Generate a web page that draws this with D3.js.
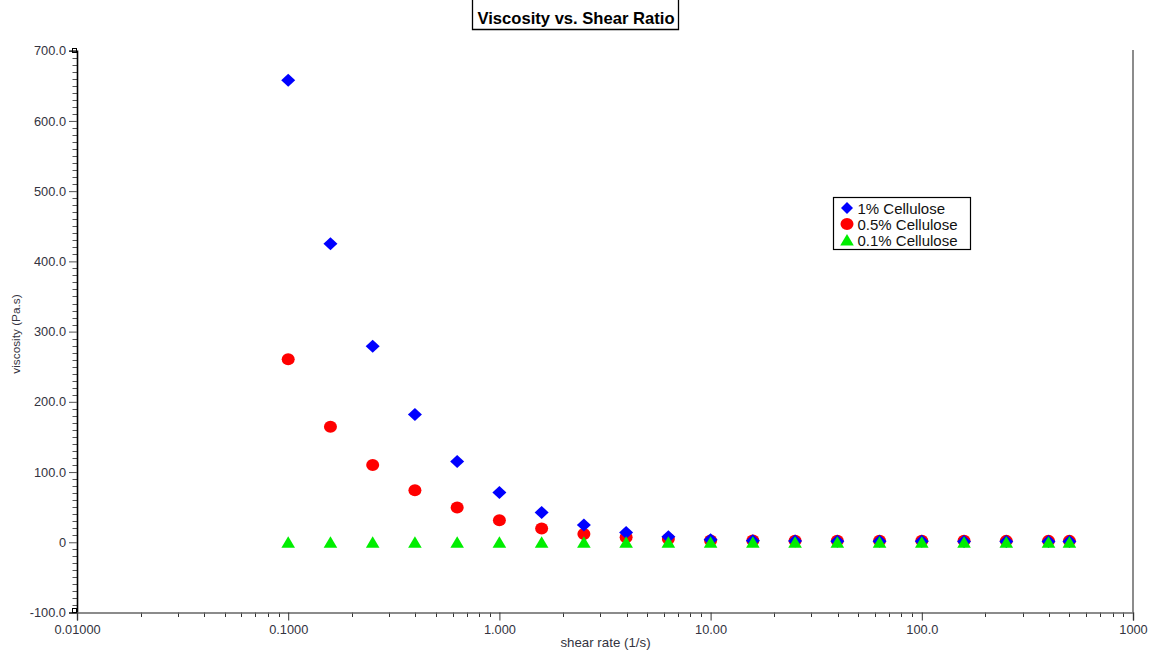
<!DOCTYPE html>
<html><head><meta charset="utf-8">
<script src="https://cdn.jsdelivr.net/npm/d3@7"></script>
<style>body{margin:0;background:#fff;}svg{display:block;font-family:Arial,"Liberation Sans",sans-serif;}</style>
</head><body>
<svg id="c" width="1152" height="651"></svg>
<script>
const shearRate = [0.1,0.1585,0.2512,0.3981,0.631,1,1.585,2.512,3.981,6.31,10,15.85,25.12,39.81,63.1,100,158.5,251.2,398.1,500];
const visc1 = [658,425,279,182,115,71,42.5,24.5,14,8,3.5,2.2,1.8,1.5,1.4,1.3,1.2,1.1,1.0,1.0];
const visc05 = [260.5,164.5,110,74,49.5,31.4,19.6,11.8,7,4.5,2.6,2.4,2.3,2.2,2.2,2.1,2.1,2.0,2.0,2.0];
const visc01 = [0.2,0.2,0.1,0.1,0.1,0,0,0,0,0,0,0,0,0,0,0,0,0,0,0];
const seriesNames = ["1% Cellulose","0.5% Cellulose","0.1% Cellulose"];
const xTickVals = [0.01,0.1,1,10,100,1000];
const xTickLabels = ["0.01000","0.1000","1.000","10.00","100.0","1000"];
const yTickVals = [-100,0,100,200,300,400,500,600,700];
const yTickLabels = ["-100.0","0","100.0","200.0","300.0","400.0","500.0","600.0","700.0"];

const svg = d3.select("#c");
const x = d3.scaleLog().domain([0.01,1000]).range([77,1133]);
const y = d3.scaleLinear().domain([-100,700]).range([612.5,50.7]);
const txt = "#333340";

// title
svg.append("path").attr("d","M472.5,0V29.5H678.5V0").attr("fill","none").attr("stroke","#000").attr("stroke-width",1.3);
svg.append("text").attr("x",576).attr("y",23.5).attr("text-anchor","middle").attr("font-size",16.6).attr("font-weight","bold").attr("fill","#000").text("Viscosity vs. Shear Ratio");

// right border
svg.append("line").attr("x1",1133).attr("x2",1133).attr("y1",50).attr("y2",612.5).attr("stroke","#666").attr("stroke-width",1.5);

// y minor ticks
const yMinor = d3.range(-100,701,10).filter(v=>v%100!==0);
svg.append("g").selectAll("line").data(yMinor).join("line")
  .attr("x1",72.5).attr("x2",77).attr("y1",d=>Math.round(y(d))+0.5).attr("y2",d=>Math.round(y(d))+0.5)
  .attr("stroke","#555").attr("stroke-width",1);
// y axis
const yAxis = d3.axisLeft(y).tickValues(yTickVals).tickSize(8).tickPadding(3)
  .tickFormat((d,i)=>yTickLabels[i]);
const gy = svg.append("g").attr("transform","translate(77,0)").call(yAxis);
gy.select(".domain").attr("stroke","#000").attr("stroke-width",1.6);
gy.selectAll(".tick line").attr("stroke","#555");
gy.selectAll(".tick text").attr("font-size",12.8).attr("fill",txt).attr("font-family","Arial,'Liberation Sans',sans-serif");

// x minor ticks
const xMinor = [];
for (let e=-2;e<3;e++) for (let m=2;m<10;m++) xMinor.push(m*Math.pow(10,e));
svg.append("g").selectAll("line").data(xMinor).join("line")
  .attr("x1",d=>Math.round(x(d))+0.5).attr("x2",d=>Math.round(x(d))+0.5).attr("y1",612.5).attr("y2",617)
  .attr("stroke","#333").attr("stroke-width",1);
// x axis
const xAxis = d3.axisBottom(x).tickValues(xTickVals).tickSize(8).tickPadding(4)
  .tickFormat((d,i)=>xTickLabels[i]);
const gx = svg.append("g").attr("transform","translate(0,612.5)").call(xAxis);
gx.select(".domain").attr("stroke","#666").attr("stroke-width",1.5);
gx.selectAll(".tick line").attr("stroke","#333");
gx.selectAll(".tick text").attr("font-size",12.8).attr("fill",txt).attr("font-family","Arial,'Liberation Sans',sans-serif");

// corner squares
svg.append("rect").attr("x",72.5).attr("y",48.5).attr("width",4).attr("height",4).attr("fill","none").attr("stroke","#000");
svg.append("rect").attr("x",72.5).attr("y",608.5).attr("width",4).attr("height",4).attr("fill","none").attr("stroke","#000");

// axis titles
svg.append("text").attr("x",605.5).attr("y",647).attr("text-anchor","middle").attr("font-size",13.3).attr("fill",txt).text("shear rate (1/s)");
svg.append("text").attr("transform","translate(19.5,334) rotate(-90)").attr("text-anchor","middle").attr("font-size",11.8).attr("fill",txt).text("viscosity (Pa.s)");

// markers
const diamond = "M0,-6.5L7,0L0,6.5L-7,0Z";
const triangle = "M0,-6L6.8,5.5L-6.8,5.5Z";
const pts = (vals)=>shearRate.map((r,i)=>({r,v:vals[i]}));
svg.append("g").selectAll("ellipse").data(pts(visc05)).join("ellipse")
  .attr("cx",d=>x(d.r)).attr("cy",d=>y(d.v)).attr("rx",6.5).attr("ry",6).attr("fill","#ff0000");
svg.append("g").selectAll("path").data(pts(visc1)).join("path")
  .attr("transform",d=>`translate(${x(d.r)},${y(d.v)})`).attr("d",diamond).attr("fill","#0000ff");
svg.append("g").selectAll("path").data(pts(visc01)).join("path")
  .attr("transform",d=>`translate(${x(d.r)},${y(d.v)})`).attr("d",triangle).attr("fill","#00ee00");

// legend
const lg = svg.append("g");
lg.append("rect").attr("x",833.5).attr("y",197.5).attr("width",137).attr("height",52).attr("fill","#fff").attr("stroke","#000").attr("stroke-width",1.2);
const shapes = [
  g=>g.append("path").attr("d","M0,-6L6,0L0,6L-6,0Z").attr("fill","#0000ff"),
  g=>g.append("ellipse").attr("rx",6.5).attr("ry",6).attr("fill","#ff0000"),
  g=>g.append("path").attr("d","M0,-6L6.8,5.5L-6.8,5.5Z").attr("fill","#00ee00")
];
seriesNames.forEach((n,i)=>{
  const g = lg.append("g").attr("transform",`translate(847,${208+i*16})`);
  shapes[i](g);
  lg.append("text").attr("x",857.5).attr("y",213.5+i*16).attr("font-size",15).attr("fill","#111").text(n);
});
</script>
</body></html>
